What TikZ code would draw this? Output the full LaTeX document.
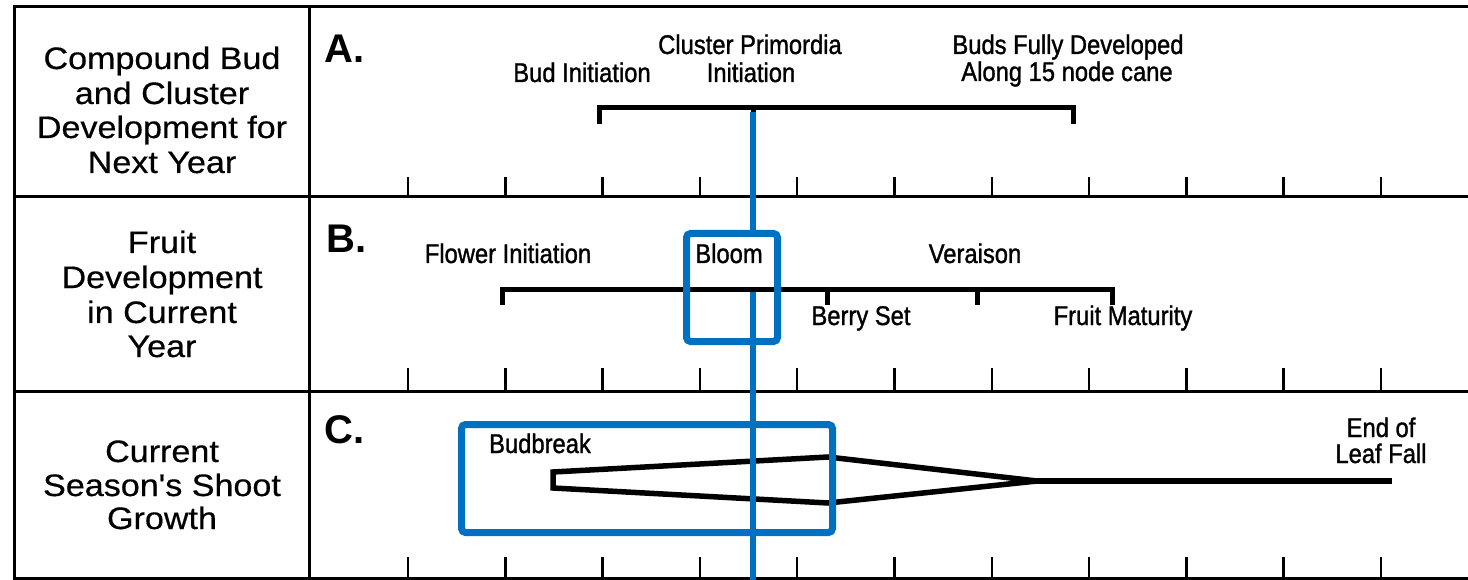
\documentclass[tikz,border=0pt]{standalone}
\usepackage{fontspec}
\setmainfont{Liberation Sans}
\newfontfamily\lab[FakeStretch=1.1, FakeBold=0.5]{Liberation Sans}
\newfontfamily\cond[FakeStretch=0.88, FakeBold=1.2]{Liberation Sans}
\newfontfamily\hdr{Liberation Sans}
\definecolor{hlblue}{RGB}{0,112,192}
\tikzset{
  frame/.style={line width=3pt, draw=black},
  tickmark/.style={line width=2.5pt, draw=black},
  brk/.style={line width=5pt, draw=black},
  shoot/.style={line width=5.5pt, draw=black},
  lbl/.style={font=\lab\fontsize{31}{34}\selectfont, anchor=base, inner sep=0pt},
  ev/.style={font=\cond\fontsize{27}{30}\selectfont, anchor=base, inner sep=0pt},
  hd/.style={font=\hdr\bfseries\fontsize{40}{40}\selectfont, anchor=base west, inner sep=0pt},
  hlbox/.style={draw=hlblue, line width=7pt, rounded corners=4pt, inner sep=0pt},
  hline/.style={draw=hlblue, line width=6.5pt},
}
\begin{document}
\begin{tikzpicture}[x=1pt,y=-1pt]
\useasboundingbox (0,0) rectangle (1468,580);
\fill[white] (0,0) rectangle (1468,580);

% frame
\draw[frame] (14,7) -- (1468,7);
\draw[frame] (14,197) -- (1468,197);
\draw[frame] (14,391) -- (1468,391);
\draw[frame] (14,578.5) -- (1468,578.5);
\draw[frame] (14,5.5) -- (14,582);
\draw[frame] (309,5.5) -- (309,582);

% time-axis ticks
\foreach \k in {0,...,10} {
  \draw[tickmark] ({408+97.3*\k},177) -- ({408+97.3*\k},197);
  \draw[tickmark] ({408+97.3*\k},368) -- ({408+97.3*\k},391);
  \draw[tickmark] ({408+97.3*\k},557) -- ({408+97.3*\k},578);
}

% left labels
\node[lbl] (a1) at (162,69) {Compound Bud};
\node[lbl] (a2) at (162,104) {and Cluster};
\node[lbl] (a3) at (162,138) {Development for};
\node[lbl] (a4) at (162,173) {Next Year};
\node[lbl] (b1) at (162,253) {Fruit};
\node[lbl] (b2) at (162,288) {Development};
\node[lbl] (b3) at (162,323) {in Current};
\node[lbl] (b4) at (162,357) {Year};
\node[lbl] (c1) at (162,462) {Current};
\node[lbl] (c2) at (162,496) {Season's Shoot};
\node[lbl] (c3) at (162,529) {Growth};

% section letters
\node[hd] (hA) at (324,63) {A.};
\node[hd] (hB) at (326,253) {B.};
\node[hd] (hC) at (324,443) {C.};

% A bracket
\coordinate (aS) at (599,108);
\coordinate (aM) at (753,108);
\coordinate (aE) at (1073,108);
\draw[brk] ([yshift=-16pt]aS) -- (aS) -- (aE) -- ([yshift=-16pt]aE);
\draw[brk] (aM) -- ([yshift=-16pt]aM);
\node[ev] (budinit) at (582,82) {Bud Initiation};
\node[ev] (clus1) at (750,54) {Cluster Primordia};
\node[ev] (clus2) at (751,82) {Initiation};
\node[ev] (buds1) at (1068,54) {Buds Fully Developed};
\node[ev] (buds2) at (1067,81) {Along 15 node cane};

% B bracket
\coordinate (bS) at (502,290);
\coordinate (bBl) at (753,290);
\coordinate (bBe) at (827,290);
\coordinate (bV) at (977,290);
\coordinate (bE) at (1112,290);
\draw[brk] ([yshift=-15pt]bS) -- (bS) -- (bE) -- ([yshift=-15pt]bE);
\draw[brk] (bBl) -- ([yshift=-15pt]bBl);
\draw[brk] (bBe) -- ([yshift=-15pt]bBe);
\draw[brk] (bV) -- ([yshift=-15pt]bV);
\node[ev] (flower) at (508,263) {Flower Initiation};
\node[ev] (bloom) at (729,263) {Bloom};
\node[ev] (veraison) at (975,263) {Veraison};
\node[ev] (berry) at (861,325) {Berry Set};
\node[ev] (fruitmat) at (1123,325) {Fruit Maturity};

% C shoot growth
\coordinate (s1) at (553,472);
\coordinate (s2) at (828,457);
\coordinate (s3) at (1037,481);
\coordinate (s4) at (828,503);
\coordinate (s5) at (553,488);
\coordinate (s6) at (1392,481);
\draw[shoot] (s1) -- (s2) -- (s3) -- (s4) -- (s5) -- cycle;
\draw[shoot] (s3) -- (s6);
\node[ev] (budbreak) at (540,453) {Budbreak};
\node[ev] (endof1) at (1381,437) {End of};
\node[ev] (endof2) at (1381,463) {Leaf Fall};

% blue highlights
\node[hlbox, minimum width=91pt, minimum height=108pt] (bloombox) at (732,287.5) {};
\node[hlbox, minimum width=371pt, minimum height=108pt] (cbox) at (647,478.5) {};
\coordinate (blueTop) at (753,112);
\coordinate (blueMid) at (753,292);
\coordinate (blueEnd) at (753,582);
\draw[hline] (blueTop) -- (blueTop |- bloombox.north);
\draw[hline] (blueMid) -- (blueEnd);
\end{tikzpicture}
\end{document}
